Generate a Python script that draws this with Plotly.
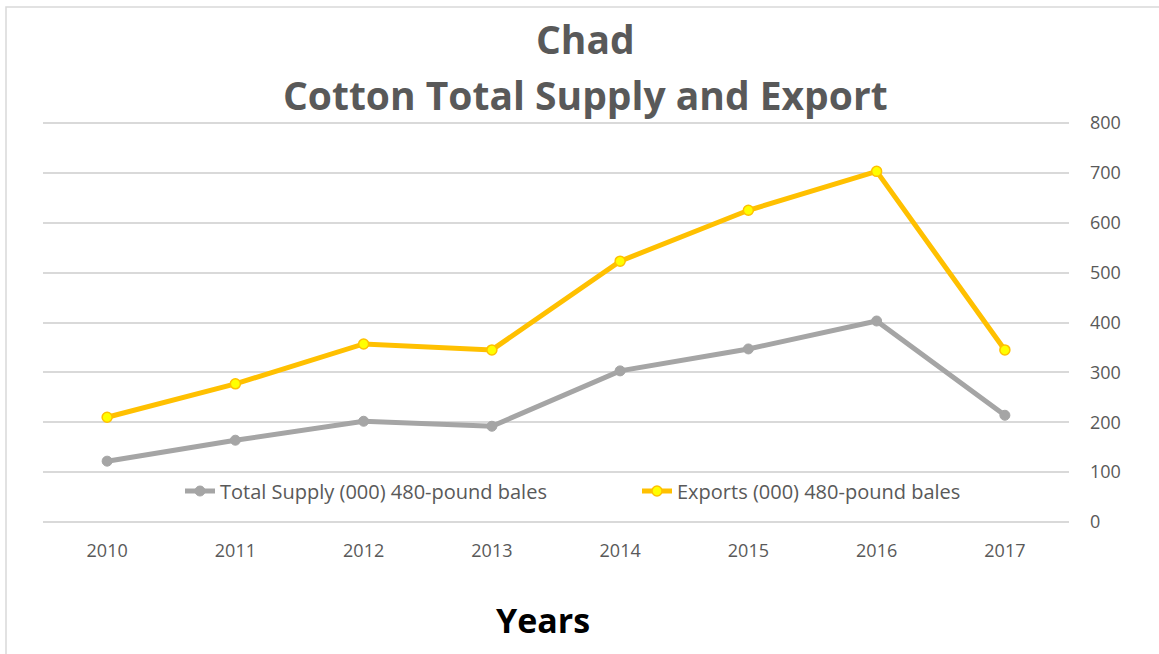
import plotly.graph_objects as go

years = ["2010", "2011", "2012", "2013", "2014", "2015", "2016", "2017"]
supply = [122, 164, 202, 192, 303, 347, 403, 214]
exports = [210, 277, 357, 345, 523, 625, 703, 345]
yticks = [0, 100, 200, 300, 400, 500, 600, 700, 800]
title_lines = ["Chad", "Cotton Total Supply and Export"]
x_title = "Years"

FONT = "Open Sans"
fig = go.Figure()
fig.add_trace(go.Scatter(
    x=years, y=supply, mode="lines+markers", name="Total Supply (000) 480-pound bales",
    line=dict(color="#A5A5A5", width=5), legend="legend",
    marker=dict(size=10, color="#A5A5A5", line=dict(color="#A5A5A5", width=1)),
))
fig.add_trace(go.Scatter(
    x=years, y=exports, mode="lines+markers", name="Exports (000) 480-pound bales",
    line=dict(color="#FFC000", width=5), legend="legend2",
    marker=dict(size=10, color="#FFFF00", line=dict(color="#FFC000", width=1.5)),
))

L, R, T, B = 43, 90, 119, 128
W, H = 1159, 654
pw, ph = W - L - R, H - T - B
base = H - B  # pixel y of the bottom of the plot area


def py(ypx):
    return (base - ypx) / ph


def px(xpx):
    return (xpx - L) / pw


leg_common = dict(orientation="h", xanchor="left", yanchor="middle", y=py(491),
                  bgcolor="rgba(0,0,0,0)", font=dict(size=20, color="#595959"))

fig.update_layout(
    width=W, height=H,
    margin=dict(l=L, r=R, t=T, b=B),
    paper_bgcolor="white", plot_bgcolor="white",
    font=dict(family=FONT, color="#595959", size=18),
    xaxis=dict(type="category", range=[-0.5, 7.5], showgrid=False, showline=False,
               ticks="", ticklabelstandoff=12, tickfont=dict(size=18, color="#595959")),
    yaxis=dict(side="right", range=[-8, 808], tickvals=yticks, showgrid=True,
               gridcolor="#D9D9D9", gridwidth=1.5, zeroline=False, showline=False,
               ticks="", ticklabelstandoff=20, tickfont=dict(size=18, color="#595959")),
    legend=dict(x=px(180), **leg_common),
    legend2=dict(x=px(637), **leg_common),
    showlegend=True,
)
for txt, ypx in zip(title_lines, [38, 95]):
    fig.add_annotation(text="<b>%s</b>" % txt, xref="paper", yref="paper",
                       x=px(585), y=py(ypx), xanchor="center", yanchor="middle",
                       showarrow=False, font=dict(family=FONT, size=39, color="#595959"))
fig.add_annotation(text="<b>%s</b>" % x_title, xref="paper", yref="paper",
                   x=px(543), y=py(620), xanchor="center", yanchor="middle",
                   showarrow=False, font=dict(family=FONT, size=34, color="black"))
fig.add_shape(type="rect", xref="paper", yref="paper",
              x0=px(6), x1=px(W + 6), y0=py(H + 6), y1=py(7),
              line=dict(color="#D9D9D9", width=1.5), layer="below")
fig.write_html("out.html")
